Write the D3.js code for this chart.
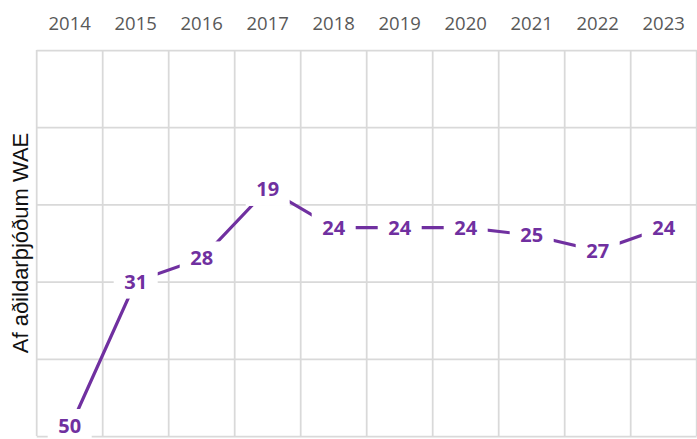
<!DOCTYPE html>
<html>
<head>
<meta charset="utf-8">
<script src="https://cdn.jsdelivr.net/npm/d3@7/dist/d3.min.js"></script>
<style>
  html, body { margin: 0; padding: 0; background: #fff; }
  svg { display: block; }
</style>
</head>
<body>
<div id="chart"></div>
<script>
// Ranking among WAE member nations, by year (lower rank is better, axis inverted)
const years = ["2014", "2015", "2016", "2017", "2018", "2019", "2020", "2021", "2022", "2023"];
const ranks = [50, 31, 28, 19, 24, 24, 24, 25, 27, 24];
const rankTicks = [1, 11, 21, 31, 41, 51];
const axisTitle = "Af aðildarþjóðum WAE";

const width = 697, height = 439;
const plot = { left: 36.7, right: 696.7, top: 50, bottom: 436 };
const purple = "#7030A0";
const gridColor = "#d9d9d9";

const svg = d3.select("#chart").append("svg")
  .attr("width", width).attr("height", height);

const x = d3.scaleBand().domain(years).range([plot.left, plot.right]).padding(0);
const y = d3.scaleLinear().domain([rankTicks[0], rankTicks[rankTicks.length - 1]])
  .range([plot.top, plot.bottom]);
const cx = d => x(d) + x.bandwidth() / 2;

// Horizontal gridlines (tick labels hidden)
svg.append("g")
  .attr("transform", `translate(${plot.left},0)`)
  .call(d3.axisLeft(y).tickValues(rankTicks).tickSize(-(plot.right - plot.left)).tickFormat(""))
  .call(g => g.select(".domain").remove())
  .call(g => g.selectAll("line").attr("stroke", gridColor).attr("stroke-width", 1.75));

// Vertical gridlines at category boundaries
const bounds = years.map(d => x(d)).concat([x(years[years.length - 1]) + x.bandwidth()]);
svg.append("g").selectAll("line").data(bounds).join("line")
  .attr("x1", d => d).attr("x2", d => d)
  .attr("y1", plot.top).attr("y2", plot.bottom)
  .attr("stroke", gridColor).attr("stroke-width", 1.75);

// Year labels across the top
svg.append("g")
  .attr("transform", `translate(0,${plot.top})`)
  .call(d3.axisTop(x).tickSize(0).tickPadding(20))
  .call(g => g.select(".domain").remove())
  .call(g => g.selectAll("text")
    .attr("font-family", "'Open Sans', sans-serif")
    .attr("font-size", 18.5)
    .attr("fill", "#595959"));

// Axis title
svg.append("text")
  .attr("transform", `translate(28,${(plot.top + plot.bottom) / 2}) rotate(-90)`)
  .attr("text-anchor", "middle")
  .attr("font-family", "'Liberation Sans', Arial, sans-serif")
  .attr("font-size", 22)
  .attr("fill", "#111")
  .text(axisTitle);

const data = years.map((yr, i) => ({ year: yr, rank: ranks[i] }));

// Rank line
svg.append("path")
  .datum(data)
  .attr("fill", "none")
  .attr("stroke", purple)
  .attr("stroke-width", 3.2)
  .attr("d", d3.line().x(d => cx(d.year)).y(d => y(d.rank)));

// Value labels on white boxes (kept inside the bottom edge)
const labelY = d => Math.min(y(d.rank), height - 13);
const labels = svg.append("g").selectAll("g").data(data).join("g")
  .attr("transform", d => `translate(${cx(d.year)},${labelY(d)})`);

labels.append("rect")
  .attr("x", -22).attr("y", -17)
  .attr("width", 44).attr("height", 34)
  .attr("fill", "#fff");

labels.append("text")
  .attr("text-anchor", "middle")
  .attr("dy", 7)
  .attr("font-family", "'Open Sans', sans-serif")
  .attr("font-weight", 700)
  .attr("font-size", 20)
  .attr("fill", purple)
  .text(d => d.rank);
</script>
</body>
</html>
